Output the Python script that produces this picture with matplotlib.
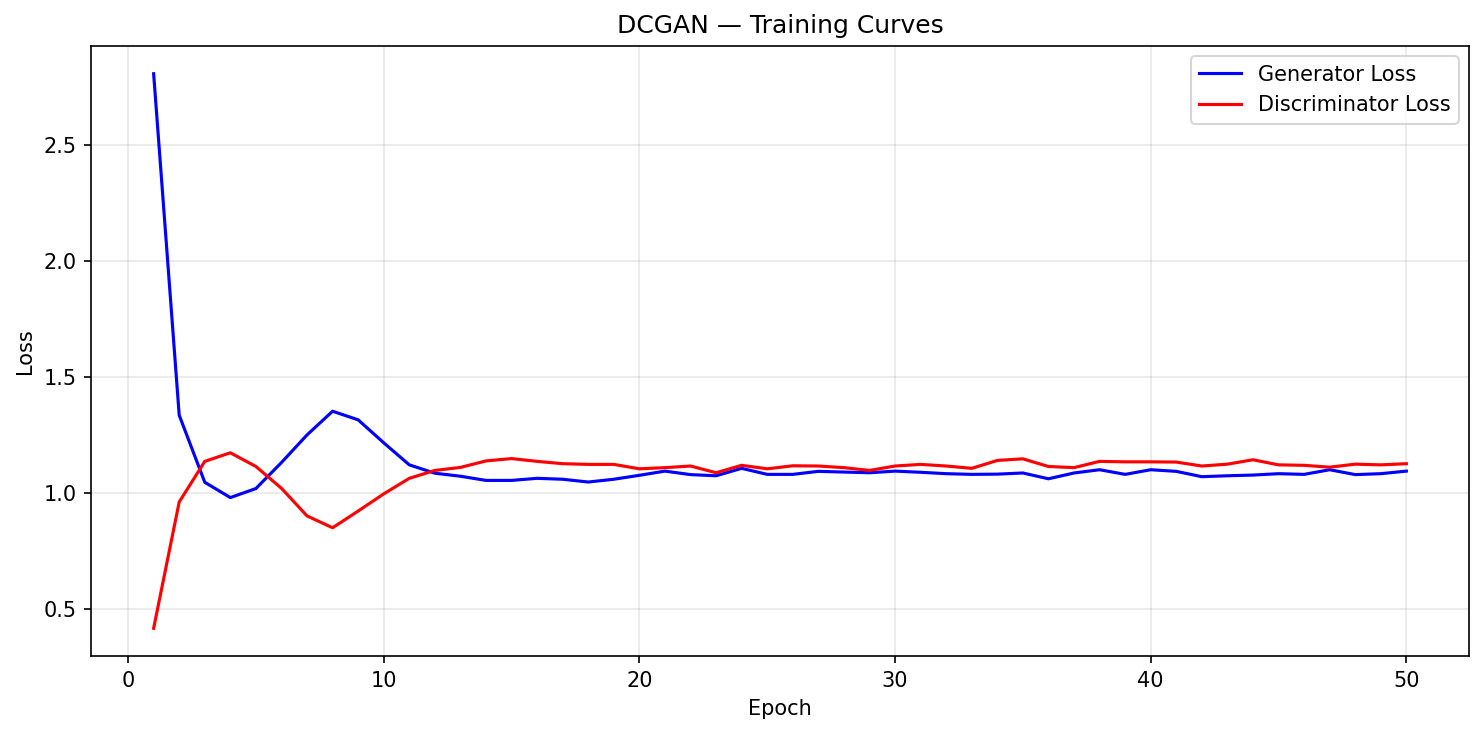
import matplotlib
matplotlib.use("Agg")
import matplotlib.pyplot as plt

epochs = list(range(1, 51))
gen_loss = [2.806, 1.335, 1.046, 0.980, 1.019, 1.131, 1.250, 1.352, 1.315, 1.216,
            1.121, 1.085, 1.072, 1.054, 1.054, 1.063, 1.059, 1.047, 1.059, 1.076,
            1.094, 1.079, 1.074, 1.106, 1.080, 1.080, 1.093, 1.090, 1.087, 1.094,
            1.089, 1.083, 1.080, 1.081, 1.086, 1.061, 1.086, 1.100, 1.080, 1.100,
            1.093, 1.070, 1.074, 1.077, 1.083, 1.080, 1.100, 1.079, 1.083, 1.094]
disc_loss = [0.417, 0.961, 1.136, 1.173, 1.114, 1.020, 0.901, 0.850, 0.922, 0.996,
             1.063, 1.097, 1.110, 1.138, 1.148, 1.136, 1.126, 1.123, 1.123, 1.104,
             1.109, 1.116, 1.087, 1.119, 1.104, 1.117, 1.116, 1.109, 1.097, 1.116,
             1.123, 1.116, 1.106, 1.140, 1.147, 1.114, 1.109, 1.136, 1.134, 1.134,
             1.133, 1.116, 1.124, 1.143, 1.121, 1.119, 1.111, 1.124, 1.121, 1.126]

dpi = 150
fig = plt.figure(figsize=(1483 / dpi, 734 / dpi), dpi=dpi)
ax = fig.add_axes([91 / 1483, 1 - 656 / 734, (1469 - 91) / 1483, (656 - 46) / 734])
ax.plot(epochs, gen_loss, color="blue", lw=1.5, label="Generator Loss")
ax.plot(epochs, disc_loss, color="red", lw=1.5, label="Discriminator Loss")
ax.set_xlabel("Epoch")
ax.set_ylabel("Loss")
ax.set_title("DCGAN — Training Curves")
ax.grid(True, alpha=0.3)
ax.legend(loc="upper right")
fig.savefig("out.png", dpi=dpi)
